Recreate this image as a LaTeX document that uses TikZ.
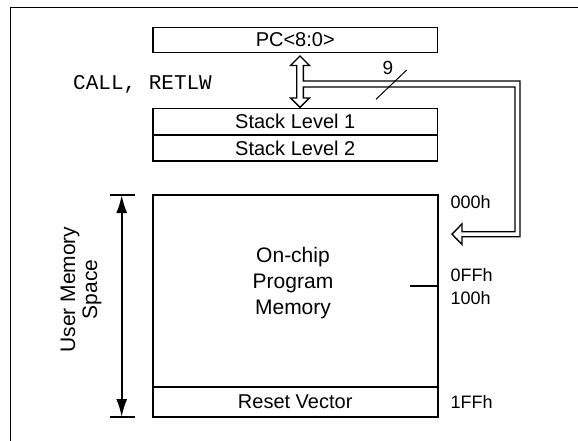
\documentclass[tikz,border=0pt]{standalone}
\usepackage{fontspec}
\setmainfont{Liberation Sans}
\newfontfamily\monof{Liberation Mono}
\usetikzlibrary{arrows.meta}
\begin{document}
\begin{tikzpicture}[x=1pt,y=-1pt,
  thick line/.style={line width=1.9pt},
  boxnode/.style={draw, line width=1.9pt, inner sep=0pt, minimum width=284.5pt, font=\fontsize{20}{22}\selectfont},
  txt/.style={inner sep=0pt, font=\fontsize{20}{22}\selectfont},
  addr/.style={inner sep=0pt, anchor=west, font=\fontsize{18}{20}\selectfont},
  bus/.style={line width=1.4pt, line join=miter}]
\useasboundingbox (0,0) rectangle (578,441);
% frame
\draw[thick line] (10.5,450) -- (10.5,7.5) -- (590,7.5);
% registers
\node[boxnode, minimum height=25pt] (pc) at (295.25,40) {PC<8:0>};
\node[boxnode, minimum height=26.5pt] (s1) at (295.25,121.75) {Stack Level 1};
\node[boxnode, minimum height=26pt] (s2) at (295.25,148) {Stack Level 2};
\node[inner sep=0pt, anchor=west, font=\monof\fontsize{21}{22}\selectfont] (call) at (73,84) {CALL, RETLW};
% memory
\node[draw, thick line, inner sep=0pt, minimum width=285pt, minimum height=191.7pt] (mem) at (295.2,290.85) {};
\node[draw, thick line, inner sep=0pt, minimum width=285pt, minimum height=30.3pt, font=\fontsize{20}{22}\selectfont] (rv) at (295.2,401.85) {Reset Vector};
\node[txt, align=center, font=\fontsize{21}{25.8}\selectfont] (ocpm) at (293,283) {On-chip\\Program\\Memory};
\draw[thick line] (410,286) -- (mem.east |- 0,286);
% addresses
\node[addr] (a0) at (450.5,201.7) {000h};
\node[addr] (a1) at (450.5,275) {0FFh};
\node[addr] (a2) at (450.5,298.3) {100h};
\node[addr] (a3) at (450.5,401.7) {1FFh};
% user memory space
\coordinate (ut) at (121.7,195);
\coordinate (ub) at (121.7,417);
\draw[thick line] (110,195) -- (135,195);
\draw[thick line] (110,417) -- (135,417);
\draw[thick line, {Latex[length=18pt,width=11pt]}-{Latex[length=18pt,width=11pt]}] (ut) -- (ub);
\node[txt, rotate=90, align=center, font=\fontsize{21}{22}\selectfont] (ums) at (81,289.5) {User Memory\\Space};
% bus
\draw[bus] (300,56) -- (309.5,65.5) -- (303.3,65.5) -- (303.3,81) -- (520,81) -- (520,236.7)
  -- (462,236.7) -- (462,244.5) -- (452,234.2) -- (462,223.9) -- (462,231.7) -- (515,231.7)
  -- (515,87) -- (303.3,87) -- (303.3,98) -- (309.5,98) -- (300,107.3) -- (290.5,98)
  -- (296.7,98) -- (296.7,65.5) -- (290.5,65.5) -- cycle;
\draw[line width=1pt] (376,99.3) -- (406.7,70);
\node[txt, font=\fontsize{19}{21}\selectfont] (nine) at (388,68) {9};
\end{tikzpicture}
\end{document}
